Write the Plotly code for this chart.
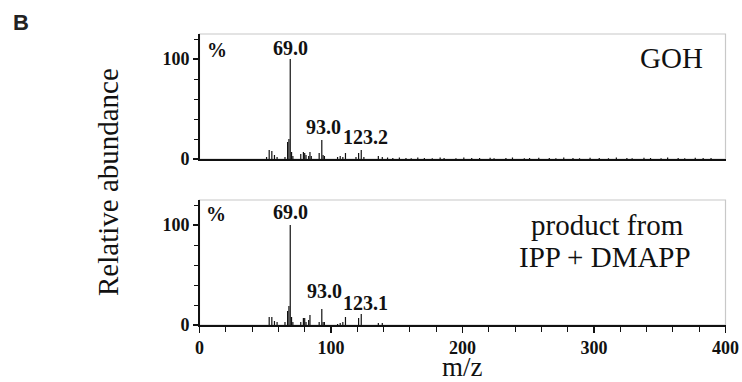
import plotly.graph_objects as go

# ---- data: GOH standard (top) ----
goh_mz = [51, 53, 55, 57, 59, 65, 67, 68, 69, 70, 71, 77, 79, 80, 81, 83, 84, 85,
          91, 93, 94, 95, 105, 107, 109, 111, 119, 121, 123, 125, 136, 139]
goh_int = [2, 9, 8, 4, 2, 2, 17, 20, 100, 7, 3, 5, 7, 6, 4, 3, 7, 3,
           6, 19, 4, 3, 2, 3, 2, 6, 2, 6, 9, 2, 3, 2]
# small background peaks (top panel)
goh_noise_mz = [143, 147, 152, 157, 161, 166, 171, 177, 183, 186, 195, 201, 207, 213,
                221, 224, 233, 238, 247, 251, 258, 266, 271, 277, 284, 289, 297, 304,
                311, 317, 325, 329, 338, 343, 351, 356, 364, 369, 377, 383, 389]
goh_noise_int = [1.5, 1, 1.5, 1, 0.8, 1.5, 1, 0.8, 1.5, 1, 0.8, 1.5, 1, 1,
                 1.2, 0.8, 1, 1.5, 0.8, 1, 1.2, 1, 0.8, 1.5, 1, 0.8, 1.2, 1,
                 0.8, 1.5, 1, 0.8, 1.2, 1, 0.8, 1.5, 1, 0.8, 1.2, 1, 1]

# ---- data: product from IPP + DMAPP (bottom) ----
prod_mz = [53, 55, 57, 59, 65, 67, 68, 69, 70, 71, 77, 79, 80, 81, 83, 84,
           91, 93, 94, 95, 105, 107, 109, 111, 121, 123, 136, 139]
prod_int = [8, 8, 4, 3, 3, 14, 19, 100, 8, 3, 3, 7, 7, 3, 5, 10,
            3, 16, 3, 3, 1, 2, 3, 8, 7, 11, 2, 2]

x_major = [0, 100, 200, 300, 400]
y_major = [0, 100]

BLACK = "#111111"
SERIF = "Liberation Serif"
W, H = 742, 382


def stems(mz, inten):
    xs, ys = [], []
    for m, h in zip(mz, inten):
        xs += [m, m, None]
        ys += [0, h, None]
    return xs, ys


fig = go.Figure()
x, y = stems(goh_mz + goh_noise_mz, goh_int + goh_noise_int)
fig.add_trace(go.Scatter(x=x, y=y, mode="lines", line=dict(color=BLACK, width=1.2),
                         xaxis="x", yaxis="y", showlegend=False, hoverinfo="skip"))
x, y = stems(prod_mz, prod_int)
fig.add_trace(go.Scatter(x=x, y=y, mode="lines", line=dict(color=BLACK, width=1.2),
                         xaxis="x2", yaxis="y2", showlegend=False, hoverinfo="skip"))

xdom = [199.5 / W, 725.5 / W]
ydom_top = [1 - 159 / H, 1 - 34 / H]
ydom_bot = [1 - 325 / H, 1 - 200 / H]

tickfont = dict(family=SERIF, size=18, color=BLACK, weight="bold")

yax = dict(range=[0, 125], tickvals=y_major, ticktext=[str(v) for v in y_major],
           ticks="outside", ticklen=5, tickwidth=1.2, tickcolor=BLACK,
           minor=dict(dtick=20, tick0=0, ticks="outside", ticklen=4, tickwidth=1,
                      tickcolor=BLACK),
           showline=True, linecolor=BLACK, linewidth=1.5, showgrid=False, zeroline=False,
           tickfont=tickfont, automargin=False)

fig.update_layout(
    width=W, height=H,
    margin=dict(l=0, r=0, t=0, b=0),
    paper_bgcolor="white", plot_bgcolor="white",
    font=dict(family=SERIF),
    xaxis=dict(domain=xdom, range=[0, 400], anchor="y", showticklabels=False, ticks="",
               showline=True, linecolor=BLACK, linewidth=1.5, showgrid=False, zeroline=False,
               automargin=False),
    yaxis=dict(domain=ydom_top, anchor="x", **yax),
    xaxis2=dict(domain=xdom, range=[0, 400], anchor="y2", tickvals=x_major,
                ticktext=[str(v) for v in x_major], ticks="outside", ticklen=6,
                tickwidth=1.2, tickcolor=BLACK,
                minor=dict(dtick=20, tick0=0, ticks="outside", ticklen=5, tickwidth=1,
                           tickcolor=BLACK),
                showline=True, linecolor=BLACK, linewidth=1.5, showgrid=False, zeroline=False,
                tickfont=tickfont, automargin=False),
    yaxis2=dict(domain=ydom_bot, anchor="x2", **yax),
)

# light grey frame (top & right edges)
for xr, yr in (("x", "y"), ("x2", "y2")):
    fig.add_shape(type="rect", xref=f"{xr} domain", yref=f"{yr} domain", x0=0, x1=1, y0=0, y1=1,
                  line=dict(color="#c8c8c8", width=1.2), layer="below")

peakfont = dict(family=SERIF, size=20, color=BLACK, weight="bold")
ann = [
    # top panel
    dict(x=69, y=111, text="69.0", xref="x", yref="y"),
    dict(x=94.5, y=32, text="93.0", xref="x", yref="y"),
    dict(x=126, y=22, text="123.2", xref="x", yref="y"),
    dict(x=13.5, y=109, text="%", xref="x", yref="y"),
    # bottom panel
    dict(x=69, y=113, text="69.0", xref="x2", yref="y2"),
    dict(x=95, y=34, text="93.0", xref="x2", yref="y2"),
    dict(x=126, y=22, text="123.1", xref="x2", yref="y2"),
    dict(x=12.5, y=111, text="%", xref="x2", yref="y2"),
]
for a in ann:
    fig.add_annotation(**a, showarrow=False, xanchor="center", yanchor="middle", font=peakfont)

labfont = dict(family=SERIF, size=29, color=BLACK)
fig.add_annotation(x=705 / W, y=1 - 58 / H, xref="paper", yref="paper", text="GOH",
                   showarrow=False, xanchor="right", yanchor="middle", font=labfont)
fig.add_annotation(x=607 / W, y=1 - 225 / H, xref="paper", yref="paper",
                   text="product from", showarrow=False, xanchor="center",
                   yanchor="middle", font=labfont)
fig.add_annotation(x=605 / W, y=1 - 257 / H, xref="paper", yref="paper",
                   text="IPP + DMAPP", showarrow=False, xanchor="center",
                   yanchor="middle", font=labfont)
fig.add_annotation(x=108 / W, y=1 - 182 / H, xref="paper", yref="paper",
                   text="Relative abundance", textangle=-90,
                   showarrow=False, xanchor="center", yanchor="middle", font=labfont)
fig.add_annotation(x=462 / W, y=1 - 367 / H, xref="paper", yref="paper", text="m/z",
                   showarrow=False, xanchor="center", yanchor="middle",
                   font=dict(family=SERIF, size=27, color=BLACK))
fig.add_annotation(x=21 / W, y=1 - 23 / H, xref="paper", yref="paper", text="B",
                   showarrow=False, xanchor="center", yanchor="middle",
                   font=dict(family="Liberation Sans", size=22,
                             color="#222222", weight="bold"))

fig.write_html("out.html", config=dict(displayModeBar=False, staticPlot=True),
               post_script="document.body.style.margin='0';document.body.style.overflow='hidden';")
